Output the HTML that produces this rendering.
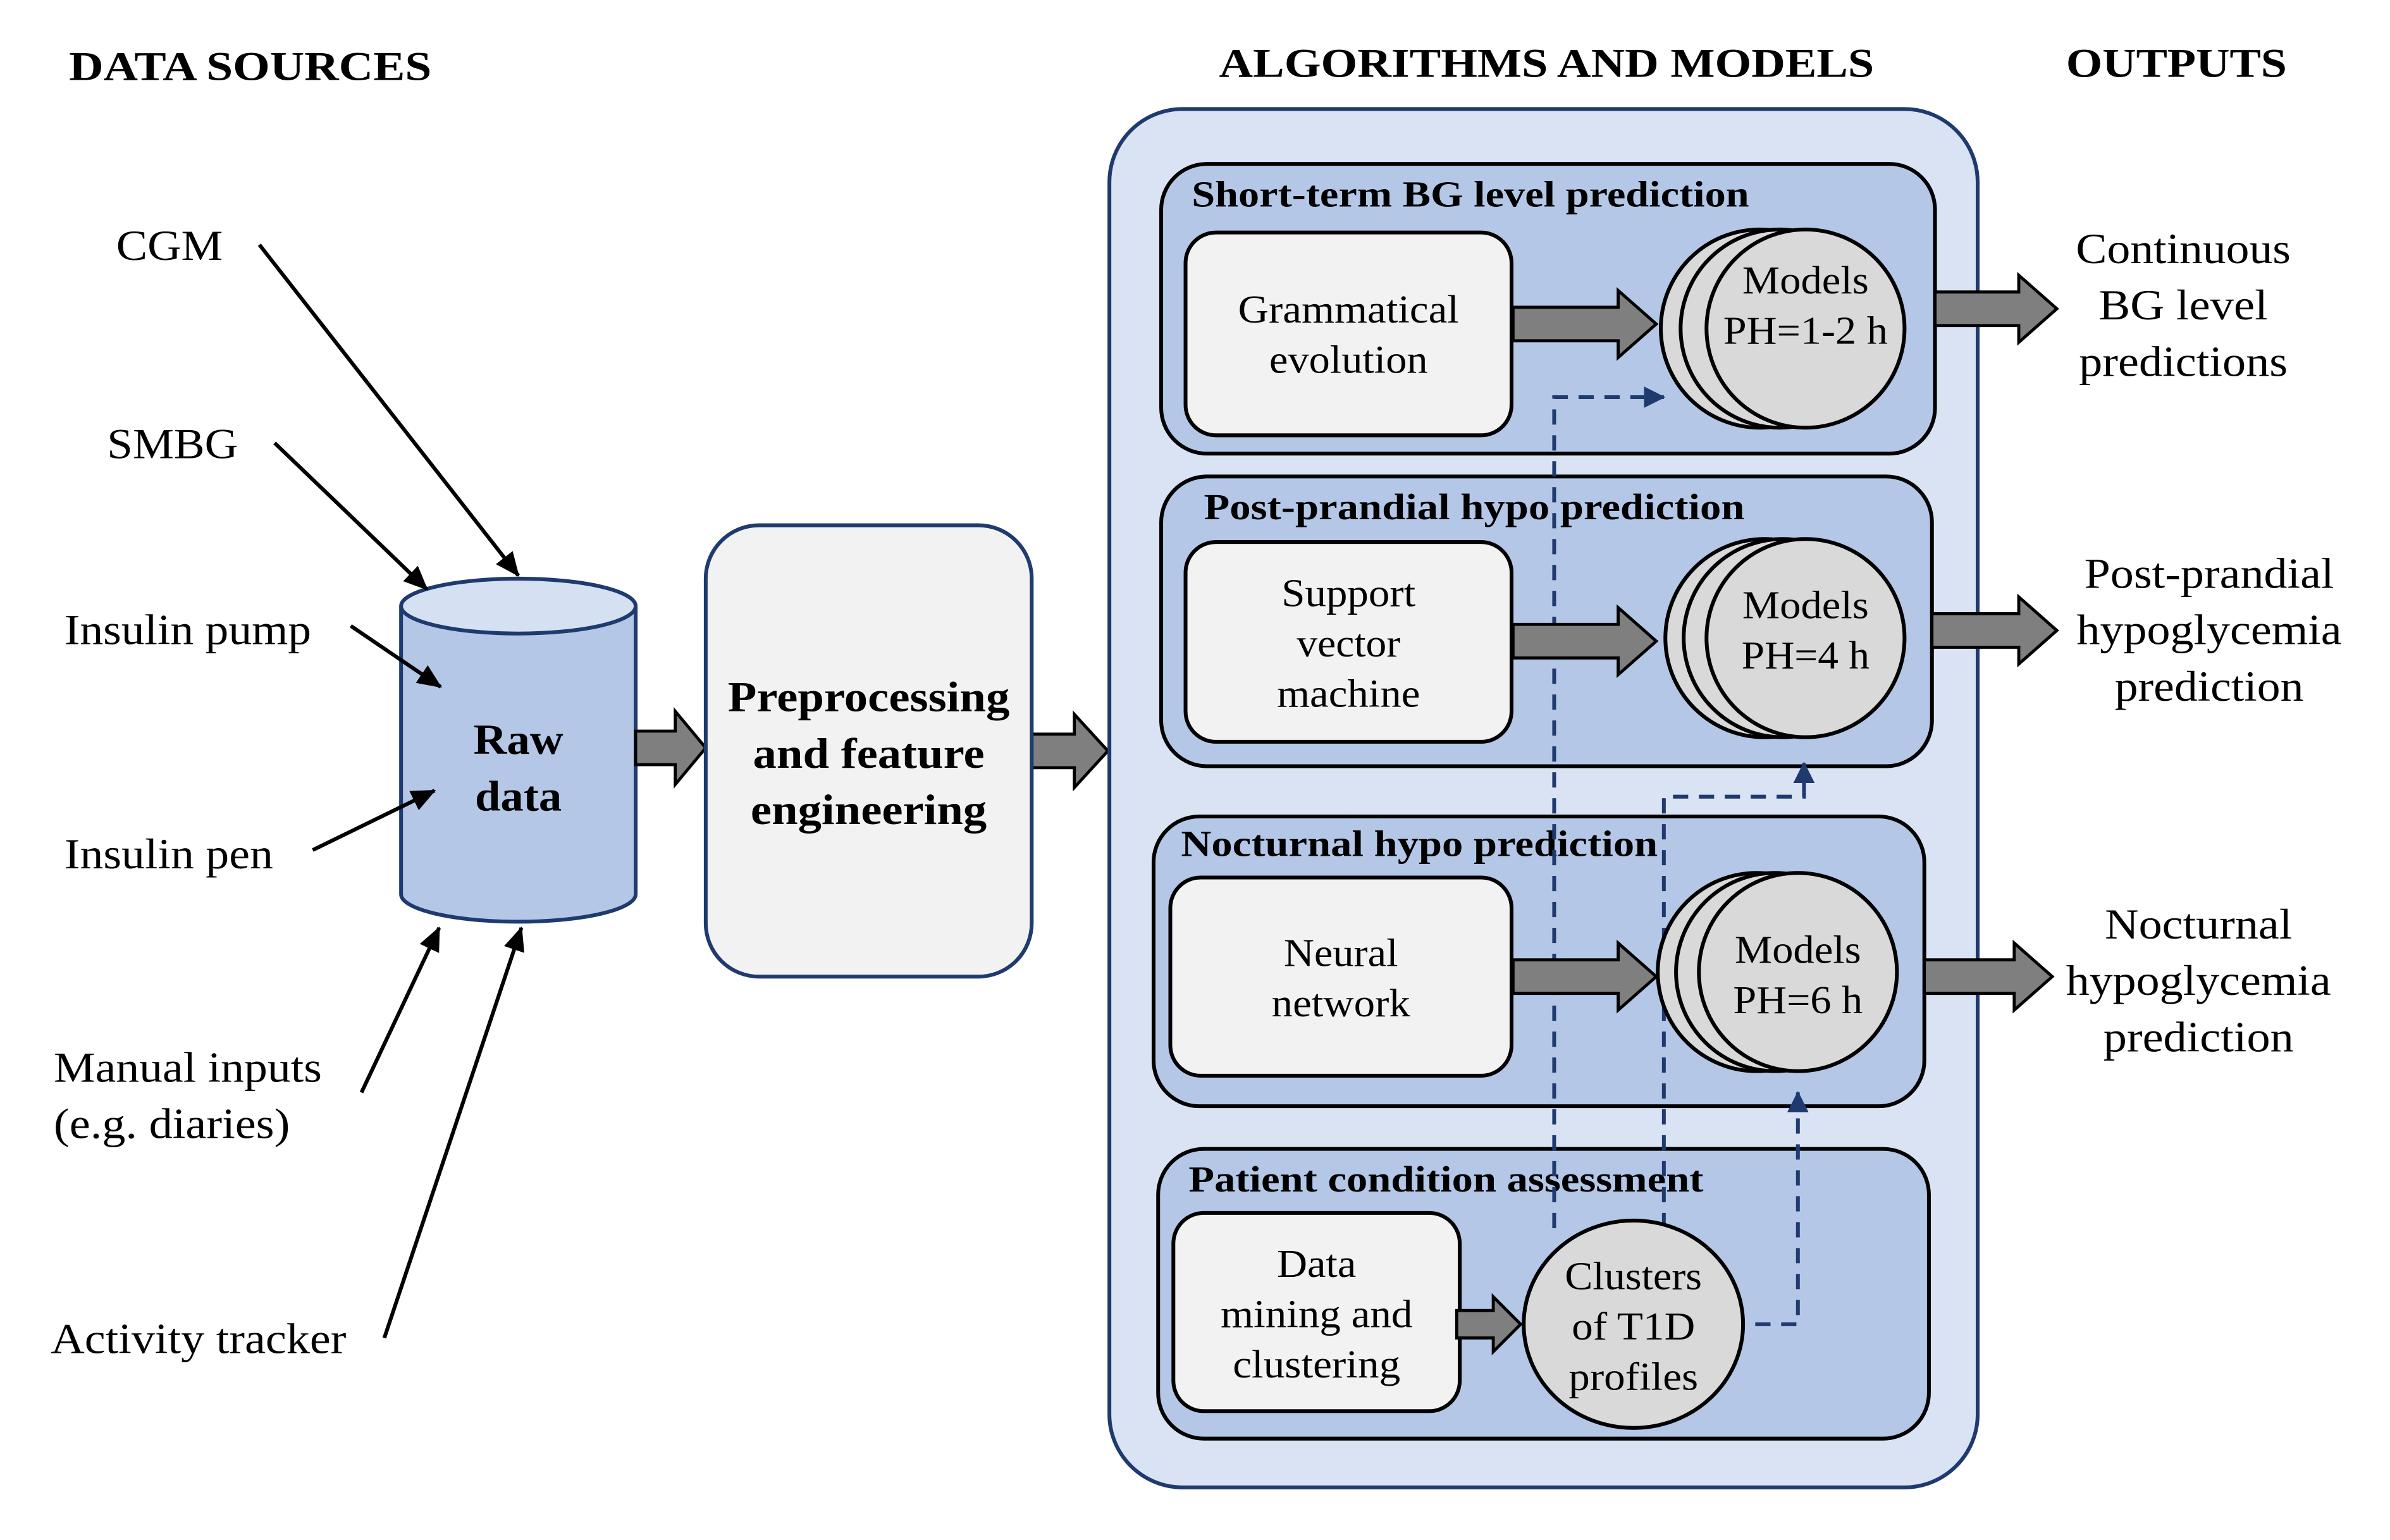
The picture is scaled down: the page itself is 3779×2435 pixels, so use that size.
<!DOCTYPE html>
<html><head><meta charset="utf-8"><style>html,body{margin:0;padding:0;background:#fff}svg{display:block}</style></head>
<body>
<svg width="3779" height="2435" viewBox="-0.3 -0.5 1569 1010" preserveAspectRatio="none" xmlns="http://www.w3.org/2000/svg" font-family="'Liberation Serif', serif">
<defs>
<marker id="ah" markerWidth="16" markerHeight="14" refX="15" refY="7" orient="auto" markerUnits="userSpaceOnUse"><path d="M0,0 L16,7 L0,14 Z" fill="#000"/></marker>
<marker id="bh" markerWidth="14" markerHeight="14" refX="13" refY="7" orient="auto" markerUnits="userSpaceOnUse"><path d="M0,0 L14,7 L0,14 Z" fill="#1f3a6e"/></marker>
</defs>
<g font-weight="bold" font-size="27" fill="#000">
<text x="45" y="52" textLength="238" lengthAdjust="spacingAndGlyphs">DATA SOURCES</text>
<text x="800" y="50" textLength="430" lengthAdjust="spacingAndGlyphs">ALGORITHMS AND MODELS</text>
<text x="1356" y="50" textLength="145" lengthAdjust="spacingAndGlyphs">OUTPUTS</text>
</g>
<g font-size="28" fill="#000">
<text x="76" y="170" textLength="70" lengthAdjust="spacingAndGlyphs">CGM</text>
<text x="70" y="300" textLength="86" lengthAdjust="spacingAndGlyphs">SMBG</text>
<text x="42" y="422" textLength="162" lengthAdjust="spacingAndGlyphs">Insulin pump</text>
<text x="42" y="569" textLength="137" lengthAdjust="spacingAndGlyphs">Insulin pen</text>
<text x="35" y="709" textLength="176" lengthAdjust="spacingAndGlyphs">Manual inputs</text>
<text x="35" y="746" textLength="155" lengthAdjust="spacingAndGlyphs">(e.g. diaries)</text>
<text x="33" y="887" textLength="194" lengthAdjust="spacingAndGlyphs">Activity tracker</text>
</g>
<path d="M263,397 V586 A77,18 0 0 0 417,586 V397" fill="#b4c7e7" stroke="#1f3a6e" stroke-width="2.5"/>
<ellipse cx="340" cy="397" rx="77" ry="18" fill="#d5e0f3" stroke="#1f3a6e" stroke-width="2.5"/>
<g font-weight="bold" font-size="28" text-anchor="middle"><text x="340" y="494" textLength="59" lengthAdjust="spacingAndGlyphs">Raw</text><text x="340" y="531" textLength="57" lengthAdjust="spacingAndGlyphs">data</text></g>
<g stroke="#000" stroke-width="2.5" marker-end="url(#ah)">
<line x1="170" y1="160" x2="340" y2="377"/>
<line x1="180" y1="290" x2="280" y2="386"/>
<line x1="230" y1="410" x2="289" y2="450"/>
<line x1="205" y1="557" x2="285" y2="518"/>
<line x1="237" y1="716" x2="288" y2="608"/>
<line x1="252" y1="877" x2="342" y2="608"/>
</g>
<g fill="#7f7f7f" stroke="#000" stroke-width="2">
<path d="M417,479 H443 V466 L463,490 L443,514 V501 H417 Z"/>
<path d="M677,481 H705 V468 L727,492 L705,516 V503 H677 Z"/>
</g>
<rect x="463" y="344" width="214" height="296" rx="35" fill="#f2f2f2" stroke="#1f3a6e" stroke-width="2.5"/>
<g font-weight="bold" font-size="28" text-anchor="middle"><text x="570" y="466" textLength="185" lengthAdjust="spacingAndGlyphs">Preprocessing</text><text x="570" y="503" textLength="152" lengthAdjust="spacingAndGlyphs">and feature</text><text x="570" y="540" textLength="155" lengthAdjust="spacingAndGlyphs">engineering</text></g>
<rect x="728" y="71" width="570" height="904" rx="48" fill="#dae3f3" stroke="#1f3a6e" stroke-width="2.5"/>
<g fill="#b4c7e7" stroke="#000" stroke-width="2.5">
<rect x="762" y="107" width="508" height="190" rx="30"/>
<rect x="762" y="312" width="506" height="190" rx="30"/>
<rect x="757" y="535" width="506" height="190" rx="30"/>
<rect x="760" y="753" width="506" height="190" rx="30"/>
</g>
<g font-weight="bold" font-size="24">
<text x="782" y="135" textLength="366" lengthAdjust="spacingAndGlyphs">Short-term BG level prediction</text>
<text x="790" y="340" textLength="355" lengthAdjust="spacingAndGlyphs">Post-prandial hypo prediction</text>
<text x="775" y="561" textLength="313" lengthAdjust="spacingAndGlyphs">Nocturnal hypo prediction</text>
<text x="780" y="781" textLength="338" lengthAdjust="spacingAndGlyphs">Patient condition assessment</text>
</g>
<g fill="#f2f2f2" stroke="#000" stroke-width="2.5">
<rect x="778" y="152" width="214" height="133" rx="20"/>
<rect x="778" y="355" width="214" height="131" rx="20"/>
<rect x="768" y="575" width="224" height="130" rx="20"/>
<rect x="770" y="795" width="188" height="130" rx="20"/>
</g>
<g font-size="26" text-anchor="middle">
<text x="885" y="211" textLength="145" lengthAdjust="spacingAndGlyphs">Grammatical</text><text x="885" y="244" textLength="104" lengthAdjust="spacingAndGlyphs">evolution</text>
<text x="885" y="397" textLength="88" lengthAdjust="spacingAndGlyphs">Support</text><text x="885" y="430" textLength="68" lengthAdjust="spacingAndGlyphs">vector</text><text x="885" y="463" textLength="94" lengthAdjust="spacingAndGlyphs">machine</text>
<text x="880" y="633" textLength="75" lengthAdjust="spacingAndGlyphs">Neural</text><text x="880" y="666" textLength="91" lengthAdjust="spacingAndGlyphs">network</text>
<text x="864" y="837" textLength="52" lengthAdjust="spacingAndGlyphs">Data</text><text x="864" y="870" textLength="126" lengthAdjust="spacingAndGlyphs">mining and</text><text x="864" y="903" textLength="110" lengthAdjust="spacingAndGlyphs">clustering</text>
</g>
<g fill="none" stroke="#1f3a6e" stroke-width="2.5" stroke-dasharray="10,7">
<path d="M1020,805 V260 H1092" marker-end="url(#bh)"/>
<path d="M1092,805 V522 H1184 V500" marker-end="url(#bh)"/>
<path d="M1152,868 H1180 V716" marker-end="url(#bh)"/>
</g>
<g fill="#7f7f7f" stroke="#000" stroke-width="2">
<path d="M993,201 H1062 V190 L1087,212 L1062,234 V223 H993 Z"/>
<path d="M993,409 H1062 V398 L1087,420 L1062,442 V431 H993 Z"/>
<path d="M993,629 H1062 V618 L1087,640 L1062,662 V651 H993 Z"/>
<path d="M956,859 H980 V850 L998,868 L980,886 V877 H956 Z"/>
<path d="M1270,191 H1325 V180 L1350,202 L1325,224 V213 H1270 Z"/>
<path d="M1268,402 H1325 V391 L1350,413 L1325,435 V424 H1268 Z"/>
<path d="M1263,629 H1322 V618 L1347,640 L1322,662 V651 H1263 Z"/>
</g>
<g fill="#d9d9d9" stroke="#000" stroke-width="2.5">
<circle cx="1155" cy="215" r="65"/><circle cx="1168" cy="215" r="65"/><circle cx="1185" cy="215" r="65"/>
<circle cx="1158" cy="418" r="65"/><circle cx="1170" cy="418" r="65"/><circle cx="1185" cy="418" r="65"/>
<circle cx="1153" cy="637" r="65"/><circle cx="1165" cy="637" r="65"/><circle cx="1180" cy="637" r="65"/>
<ellipse cx="1072" cy="868" rx="72" ry="68"/>
</g>
<g font-size="26" text-anchor="middle">
<text x="1185" y="192" textLength="83" lengthAdjust="spacingAndGlyphs">Models</text><text x="1185" y="225" textLength="108" lengthAdjust="spacingAndGlyphs">PH=1-2 h</text>
<text x="1185" y="405" textLength="83" lengthAdjust="spacingAndGlyphs">Models</text><text x="1185" y="438" textLength="84" lengthAdjust="spacingAndGlyphs">PH=4 h</text>
<text x="1180" y="631" textLength="83" lengthAdjust="spacingAndGlyphs">Models</text><text x="1180" y="664" textLength="85" lengthAdjust="spacingAndGlyphs">PH=6 h</text>
<text x="1072" y="845" textLength="90" lengthAdjust="spacingAndGlyphs">Clusters</text><text x="1072" y="878" textLength="81" lengthAdjust="spacingAndGlyphs">of T1D</text><text x="1072" y="911" textLength="85" lengthAdjust="spacingAndGlyphs">profiles</text>
</g>
<g font-size="28" text-anchor="middle">
<text x="1433" y="172" textLength="141" lengthAdjust="spacingAndGlyphs">Continuous</text><text x="1433" y="209" textLength="111" lengthAdjust="spacingAndGlyphs">BG level</text><text x="1433" y="246" textLength="137" lengthAdjust="spacingAndGlyphs">predictions</text>
<text x="1450" y="385" textLength="164" lengthAdjust="spacingAndGlyphs">Post-prandial</text><text x="1450" y="422" textLength="174" lengthAdjust="spacingAndGlyphs">hypoglycemia</text><text x="1450" y="459" textLength="124" lengthAdjust="spacingAndGlyphs">prediction</text>
<text x="1443" y="615" textLength="123" lengthAdjust="spacingAndGlyphs">Nocturnal</text><text x="1443" y="652" textLength="174" lengthAdjust="spacingAndGlyphs">hypoglycemia</text><text x="1443" y="689" textLength="125" lengthAdjust="spacingAndGlyphs">prediction</text>
</g>
</svg>
</body></html>
